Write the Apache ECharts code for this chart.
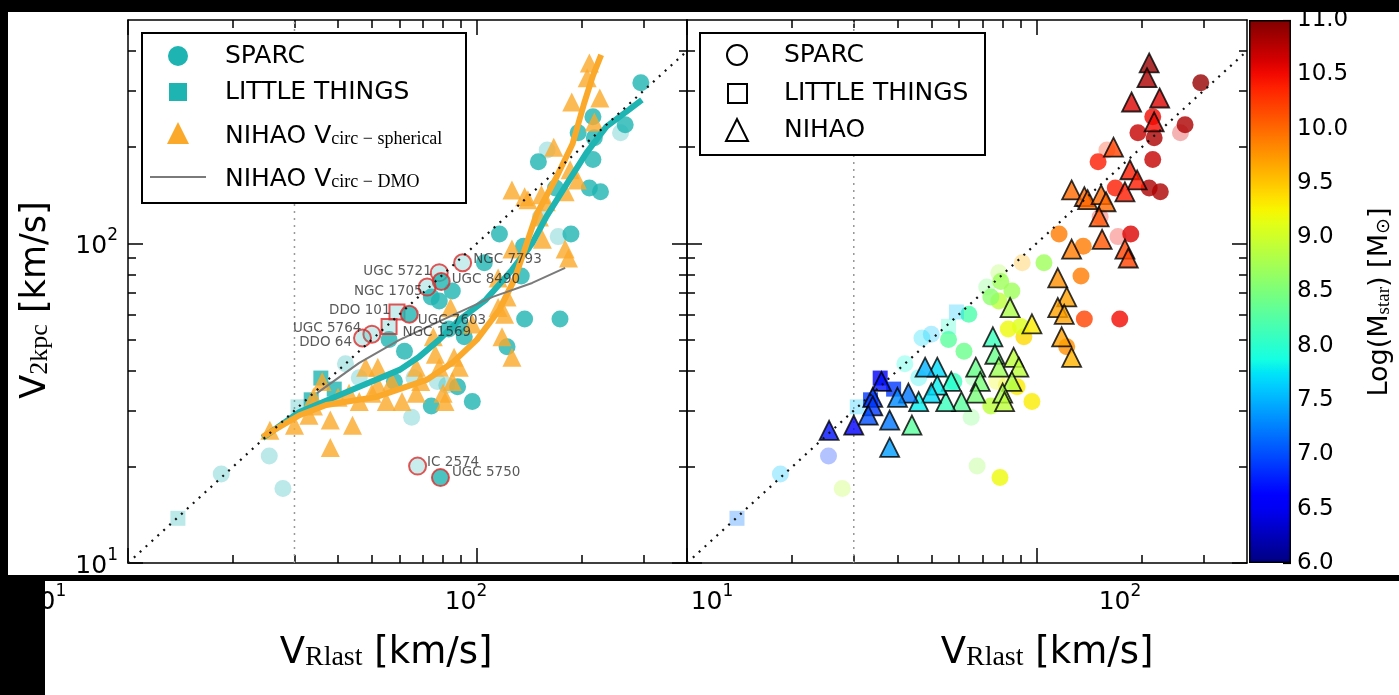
<!DOCTYPE html>
<html>
<head>
<meta charset="utf-8">
<script src="https://cdn.jsdelivr.net/npm/echarts@6/dist/echarts.min.js"></script>
<style>
  html, body { margin: 0; padding: 0; background: #fff; }
  #chart { width: 1399px; height: 695px; }
</style>
</head>
<body>
<div id="chart"></div>
<script>
// SPARC galaxies: [V_Rlast (km/s), V_2kpc (km/s), log Mstar, faded flag]
const sparc = [
  [295,318,10.9,0],[266,235,10.8,0],[258,222,10.6,1],[215,249,10.5,0],[195,222,10.7,0],
  [217,214,10.8,0],[215,183,10.7,0],[150,180,10.4,0],[159,196,10.3,1],[168,149,10.4,0],
  [210,149,10.8,0],[226,145,10.8,0],[186,107,10.6,0],[116,107,9.9,0],[136,98,9.9,0],
  [105,87,8.7,0],[152,121,10.5,1],[171,105,10.5,1],[134,79,9.9,0],[137,58,10.2,0],
  [122,47.5,9.8,0],[173,58,10.5,0],[85,71,8.7,0],[78,66,8.9,0],[83,54,9.2,0],
  [92,51,9.4,0],[56,50,8.3,0],[62,46,8.4,0],[77,37,9.2,1],[88,35.6,9.3,0],
  [74,31,8.9,0],[65,28.6,8.5,1],[58,37,8.1,0],[97,32,9.3,0],[42,42,7.9,1],
  [46,38,7.8,1],[66,38,8.4,1],[82,36,9.2,1],[18.5,19,7.6,1],[25.4,21.6,6.9,1],
  [27.8,17.1,8.9,1],[74,68,8.6,0],[90,55,9.1,0]
];

// LITTLE THINGS dwarfs: [V_Rlast, V_2kpc, log Mstar, faded flag]
const littleThings = [
  [13.9,13.8,7.2,1],[35.7,37.9,6.6,0],[33.5,32.4,6.9,0],[30.7,30.8,7.6,1],[39,35,6.9,0]
];

// Labelled galaxies: [name, V_Rlast, V_2kpc, log Mstar, faded flag, sample]
const namedGalaxies = [
  ['NGC 7793', 91, 87, 9.6, 1, 'SPARC'],
  ['UGC 5721', 78, 81, 8.8, 1, 'SPARC'],
  ['UGC 8490', 79, 76, 8.7, 0, 'SPARC'],
  ['NGC 1705', 72, 73, 8.5, 1, 'SPARC'],
  ['DDO 101', 59, 61, 7.6, 1, 'LITTLE THINGS'],
  ['UGC 7603', 64, 60, 8.2, 0, 'SPARC'],
  ['NGC 1569', 56, 55, 8.0, 1, 'LITTLE THINGS'],
  ['UGC 5764', 50, 52, 7.6, 1, 'SPARC'],
  ['DDO 64', 47, 50.6, 7.7, 1, 'SPARC'],
  ['IC 2574', 67.6, 20.1, 8.7, 1, 'SPARC'],
  ['UGC 5750', 78.6, 18.5, 9.2, 0, 'SPARC']
];

// NIHAO simulated galaxies: [V_Rlast, V_circ,spherical(2 kpc), log Mstar]
const nihao = [
  [210,367,10.9],[207,330,10.8],[225,285,10.6],[187,277,10.6],[217,240,10.5],
  [166,200,10.2],[185,170,10.4],[194,158,10.4],[179,145,10.4],[126,147,10.0],
  [137,140,10.0],[140,137,10.0],[153,142,10.0],[158,135,10.0],[151,121,10.1],
  [154,103,10.1],[126,96,9.9],[179,96,10.2],[183,90,10.2],[115,78,9.8],
  [122,68,9.7],[115,63,9.7],[120,60,9.7],[118,51,9.7],[126,44,9.6],
  [97,56,9.3],[84,63,8.8],[75,51,8.1],[76,45,8.4],[86,44,8.9],
  [89,41,8.9],[78,41,8.7],[67,41,8.4],[69,37,8.5],[85,37,8.8],
  [80,34,8.8],[81,32,8.9],[67,34,8.5],[61,32,8.3],[55,32,8.1],
  [57,37,8.0],[52,41,7.7],[48,41,7.5],[52,36,7.8],[50,34,7.7],
  [46,32,7.8],[43,34,7.2],[40,33,7.3],[36,37,6.7],[34,33,6.9],
  [34,31,6.9],[33,29,7.0],[38,28,7.2],[44,27,8.3],[30,27,6.6],
  [25.5,26,6.7],[38,23,7.4]
];

// Running trends
const sparcTrend = [[24.3,24.6],[31,29.7],[46,35.6],[60,40.2],[68,44],[78,50],[89,57.6],[106,66.6],
  [126,82.6],[144,100],[158,121],[184,158],[206,192],[235,232],[273,262],[297,281]];
const nihaoTrend = [[24.3,24.8],[31,29],[37,31.2],[51.6,33.1],[71.7,37.4],[85,42.3],[100,50],[116,62],
  [128,77],[137,95.5],[148,123],[169,161],[188,205],[203,275],[215,335],[227,389]];
const nihaoDMO = [[34.8,34],[46,42.3],[60,49.9],[82,58.5],[111,68],[144,75.2],[179,83.8]];

// Reference lines
const oneToOne = [[10,10],[400,400]];
const vCut = [[30,10],[30,500]];

// Axis ticks
const xMajorTicks = [10,100];
const xMinorTicks = [20,30,40,50,60,70,80,90,200,300];
const yMajorTicks = [10,100];
const yMinorTicks = [20,30,40,50,60,70,80,90,200,300,400];
const massMin = 6, massMax = 11, massStep = 0.5;

// ---------------------------------------------------------------
const TEAL = '#1db4b2';
const TEAL_FADED = 'rgba(29,180,178,0.3)';
const ORANGE = '#fba92a';
const RED = '#dc2a2a';
const FONT = 'DejaVu Sans';
const SERIF = 'Liberation Serif';

// matplotlib "jet" colour map
const JR = [[0,0],[0.35,0],[0.66,1],[0.89,1],[1,0.5]];
const JG = [[0,0],[0.125,0],[0.375,1],[0.64,1],[0.91,0],[1,0]];
const JB = [[0,0.5],[0.11,1],[0.34,1],[0.65,0],[1,0]];
function interp(p, t) {
  for (let i = 1; i < p.length; i++) {
    if (t <= p[i][0]) {
      const a = p[i-1], b = p[i];
      return a[1] + (b[1]-a[1]) * (t-a[0]) / (b[0]-a[0]);
    }
  }
  return p[p.length-1][1];
}
function jet(t) {
  return 'rgb(' + [JR,JG,JB].map(p => Math.round(255*interp(p,t))).join(',') + ')';
}
const jetColors = Array.from({length: 41}, (_, i) => jet(i/40));

// power-of-ten tick labels with a raised exponent
function sup(v) {
  const e = Math.round(Math.log10(v));
  return '{m|10}{e|' + e + '}';
}
const supRich = {
  m: {fontSize: 25, fontFamily: 'DejaVu Sans', color: '#000', lineHeight: 32, verticalAlign: 'bottom'},
  e: {fontSize: 17, fontFamily: 'DejaVu Sans', color: '#000', lineHeight: 16, verticalAlign: 'top'}
};

const frame = {color: '#000', width: 1.5};

function panelAxes(gi, yLabels) {
  const xs = [], ys = [];
  ['bottom','top'].forEach(pos => {
    xs.push({gridIndex: gi, type: 'log', logBase: 10, min: 10, max: 400, position: pos,
      axisLine: {show: true, onZero: false, lineStyle: frame},
      axisTick: {show: true, inside: true, length: 15, lineStyle: frame, customValues: xMajorTicks},
      axisLabel: {show: false}, splitLine: {show: false}});
    xs.push({gridIndex: gi, type: 'log', logBase: 10, min: 10, max: 400, position: pos,
      axisLine: {show: false},
      axisTick: {show: true, inside: true, length: 8, lineStyle: frame, customValues: xMinorTicks},
      axisLabel: {show: false}, splitLine: {show: false}});
  });
  ['left','right'].forEach(pos => {
    ys.push({gridIndex: gi, type: 'log', logBase: 10, min: 10, max: 500, position: pos,
      axisLine: {show: true, onZero: false, lineStyle: frame},
      axisTick: {show: true, inside: true, length: 15, lineStyle: frame, customValues: yMajorTicks},
      axisLabel: {show: yLabels && pos === 'left', customValues: yMajorTicks, formatter: sup,
        rich: supRich, margin: 10},
      splitLine: {show: false}});
    ys.push({gridIndex: gi, type: 'log', logBase: 10, min: 10, max: 500, position: pos,
      axisLine: {show: false},
      axisTick: {show: true, inside: true, length: 8, lineStyle: frame, customValues: yMinorTicks},
      axisLabel: {show: false}, splitLine: {show: false}});
  });
  return {xs, ys};
}

const pL = panelAxes(0, true);
const pR = panelAxes(1, false);

function labelRowAxis(gi) {
  return {gridIndex: gi, type: 'log', logBase: 10, min: 10, max: 100, position: 'bottom',
    axisLine: {show: false}, axisTick: {show: false}, splitLine: {show: false},
    axisLabel: {show: true, formatter: sup, rich: supRich, margin: 2,
      showMinLabel: true, showMaxLabel: true}};
}

const xAxes = [...pL.xs, ...pR.xs, labelRowAxis(2), labelRowAxis(3),
  {gridIndex: 4, type: 'category', data: ['M'], show: false}];
const yAxes = [...pL.ys, ...pR.ys,
  {gridIndex: 2, type: 'value', show: false},
  {gridIndex: 3, type: 'value', show: false},
  {gridIndex: 4, type: 'value', min: massMin, max: massMax, interval: massStep, position: 'right',
    axisLine: {show: false}, splitLine: {show: false},
    axisTick: {show: true, inside: true, length: 8, lineStyle: {color: '#000', width: 1.2}},
    axisLabel: {fontSize: 23, fontFamily: FONT, color: '#000', margin: 6, formatter: v => v.toFixed(1)}}];

// label placement for the named galaxies: [side, distance, dx, dy]
const namedLabelPlacement = {
  'NGC 7793': ['right', 1, 0, -3], 'UGC 8490': ['right', 1, 0, -2],
  'UGC 5721': ['left', -2, 0, -1], 'NGC 1705': ['left', -5, 0, 4],
  'DDO 101': ['left', -2, 0, -2], 'UGC 7603': ['right', -1, 0, 6],
  'NGC 1569': ['right', 5, 0, 6], 'UGC 5764': ['left', 1, 0, -6],
  'DDO 64': ['left', 1, 0, 5], 'IC 2574': ['right', 0, 0, -4],
  'UGC 5750': ['right', 2, 0, -5]
};

const SZ_C = 17, SZ_S = 15, SZ_T = 19;
const series = [];
function add(s) { series.push(s); return series.length - 1; }

// ---- left panel
const L = {xAxisIndex: 0, yAxisIndex: 0};
add({...L, type: 'line', data: vCut, symbol: 'none', z: 1, silent: true,
  lineStyle: {color: '#999', width: 1.5, type: [2,5]}});
add({...L, type: 'scatter', name: 'SPARC', symbol: 'circle', symbolSize: SZ_C, z: 2,
  data: sparc.filter(d => d[3]).map(d => [d[0], d[1]]), itemStyle: {color: TEAL, opacity: 0.3}});
add({...L, type: 'scatter', name: 'SPARC', symbol: 'circle', symbolSize: SZ_C, z: 2,
  data: sparc.filter(d => !d[3]).map(d => [d[0], d[1]]), itemStyle: {color: TEAL}});
add({...L, type: 'scatter', name: 'LITTLE THINGS', symbol: 'rect', symbolSize: SZ_S, z: 2,
  data: littleThings.filter(d => d[3]).map(d => [d[0], d[1]]), itemStyle: {color: TEAL, opacity: 0.3}});
add({...L, type: 'scatter', name: 'LITTLE THINGS', symbol: 'rect', symbolSize: SZ_S, z: 2,
  data: littleThings.filter(d => !d[3]).map(d => [d[0], d[1]]), itemStyle: {color: TEAL}});
add({...L, type: 'scatter', name: 'NIHAO', symbol: 'triangle', symbolSize: SZ_T, z: 3,
  data: nihao.map(d => [d[0], d[1]]), itemStyle: {color: ORANGE}});
add({...L, type: 'line', data: sparcTrend, symbol: 'none', z: 4, lineStyle: {color: TEAL, width: 6}});
add({...L, type: 'line', data: nihaoTrend, symbol: 'none', z: 4, lineStyle: {color: ORANGE, width: 6}});
add({...L, type: 'line', data: nihaoDMO, symbol: 'none', z: 4, lineStyle: {color: '#7a7a7a', width: 2}});
add({...L, type: 'scatter', z: 5,
  data: namedGalaxies.map(g => {
    const p = namedLabelPlacement[g[0]];
    const isLT = g[5] === 'LITTLE THINGS';
    return {
      name: g[0], value: [g[1], g[2]],
      symbol: isLT ? 'rect' : 'circle', symbolSize: isLT ? SZ_S : SZ_C,
      itemStyle: {color: g[4] ? TEAL_FADED : TEAL, borderColor: RED, borderWidth: 2},
      label: {show: true, formatter: g[0], position: p[0], distance: p[1], offset: [p[2], p[3]],
        fontSize: 13.5, fontFamily: FONT, color: '#2e2e2e'}
    };
  })});
add({...L, type: 'line', data: oneToOne, symbol: 'none', z: 6, silent: true,
  lineStyle: {color: '#111', width: 2.2, type: [2,6]}});

// ---- right panel, coloured by stellar mass
const R = {xAxisIndex: 4, yAxisIndex: 4};
const namedC = namedGalaxies.filter(g => g[5] === 'SPARC');
const namedS = namedGalaxies.filter(g => g[5] === 'LITTLE THINGS');
const sparcAll = sparc.concat(namedC.map(g => [g[1], g[2], g[3], g[4]]));
const ltAll = littleThings.concat(namedS.map(g => [g[1], g[2], g[3], g[4]]));
const mapped = [];
add({...R, type: 'line', data: vCut, symbol: 'none', z: 1, silent: true,
  lineStyle: {color: '#999', width: 1.5, type: [2,5]}});
mapped.push(add({...R, type: 'scatter', name: 'SPARC', symbol: 'circle', symbolSize: SZ_C, z: 2,
  data: sparcAll.filter(d => d[3]).map(d => [d[0], d[1], d[2]]), itemStyle: {opacity: 0.3}}));
mapped.push(add({...R, type: 'scatter', name: 'SPARC', symbol: 'circle', symbolSize: SZ_C, z: 2,
  data: sparcAll.filter(d => !d[3]).map(d => [d[0], d[1], d[2]])}));
mapped.push(add({...R, type: 'scatter', name: 'LITTLE THINGS', symbol: 'rect', symbolSize: SZ_S, z: 2,
  data: ltAll.filter(d => d[3]).map(d => [d[0], d[1], d[2]]), itemStyle: {opacity: 0.3}}));
mapped.push(add({...R, type: 'scatter', name: 'LITTLE THINGS', symbol: 'rect', symbolSize: SZ_S, z: 2,
  data: ltAll.filter(d => !d[3]).map(d => [d[0], d[1], d[2]])}));
mapped.push(add({...R, type: 'scatter', name: 'NIHAO', symbol: 'triangle', symbolSize: SZ_T, z: 3,
  data: nihao, itemStyle: {borderColor: '#000', borderWidth: 1.8}}));
add({...R, type: 'line', data: oneToOne, symbol: 'none', z: 6, silent: true,
  lineStyle: {color: '#111', width: 2.2, type: [2,6]}});

// ---- colour bar
const cbGradient = new echarts.graphic.LinearGradient(0, 1, 0, 0,
  jetColors.map((c, i) => ({offset: i / (jetColors.length - 1), color: c})));
add({xAxisIndex: 10, yAxisIndex: 10, type: 'bar', stack: 'cb', data: [massMin], barWidth: '100%',
  itemStyle: {color: 'rgba(0,0,0,0)'}, silent: true});
add({xAxisIndex: 10, yAxisIndex: 10, type: 'bar', stack: 'cb', data: [massMax - massMin], barWidth: '100%',
  itemStyle: {color: cbGradient, borderColor: '#000', borderWidth: 1.5}, silent: true});

// ---- legends, titles and frame
const T = (x, y, text, extra) => ({type: 'text', x, y, z: 110,
  style: Object.assign({text, fontSize: 25, fontFamily: FONT, fill: '#000',
    align: 'left', verticalAlign: 'middle'}, extra || {})});
const subRich = (big, small, drop) => ({
  a: {fontSize: big, fontFamily: FONT, fill: '#000', lineHeight: big + 6, verticalAlign: 'bottom'},
  b: {fontSize: small, fontFamily: SERIF, fill: '#000', lineHeight: drop, verticalAlign: 'bottom'}
});

const graphics = [
  // left legend
  {type: 'rect', z: 100, shape: {x: 142, y: 33, width: 324, height: 170},
    style: {fill: '#fff', stroke: '#000', lineWidth: 2}},
  {type: 'circle', z: 110, shape: {cx: 178, cy: 56, r: 10}, style: {fill: TEAL}},
  {type: 'rect', z: 110, shape: {x: 169, y: 83, width: 18, height: 18}, style: {fill: TEAL}},
  {type: 'polygon', z: 110, shape: {points: [[178,122],[167,144],[189,144]]}, style: {fill: ORANGE}},
  {type: 'line', z: 110, shape: {x1: 150, y1: 177, x2: 206, y2: 177}, style: {stroke: '#7a7a7a', lineWidth: 2}},
  T(225, 56, 'SPARC'),
  T(225, 92, 'LITTLE THINGS'),
  T(225, 133, '{a|NIHAO V}{b|circ − spherical}', {rich: subRich(25, 18, 12)}),
  T(225, 176, '{a|NIHAO V}{b|circ − DMO}', {rich: subRich(25, 18, 12)}),
  // right legend
  {type: 'rect', z: 100, shape: {x: 700, y: 33, width: 285, height: 122},
    style: {fill: '#fff', stroke: '#000', lineWidth: 2}},
  {type: 'circle', z: 110, shape: {cx: 737, cy: 55, r: 10}, style: {fill: 'none', stroke: '#000', lineWidth: 2}},
  {type: 'rect', z: 110, shape: {x: 728, y: 84, width: 19, height: 19}, style: {fill: 'none', stroke: '#000', lineWidth: 2}},
  {type: 'polygon', z: 110, shape: {points: [[737,119],[726,141],[748,141]]}, style: {fill: 'none', stroke: '#000', lineWidth: 2}},
  T(784, 55, 'SPARC'),
  T(784, 93, 'LITTLE THINGS'),
  T(784, 130, 'NIHAO'),
  // axis titles
  T(386, 650, '{a|V}{b|Rlast}{a| [km/s]}', {align: 'center', rich: subRich(37, 28, 14)}),
  T(1047, 650, '{a|V}{b|Rlast}{a| [km/s]}', {align: 'center', rich: subRich(37, 28, 14)}),
  Object.assign(T(33, 300, '{a|V}{b|2kpc}{a| [km/s]}', {align: 'center', rich: subRich(35, 26, 14)}), {rotation: Math.PI / 2}),
  Object.assign(T(1377, 302, '{a|Log(M}{b|star}{a|) [M}{b|⊙}{a|]}', {align: 'center', rich: subRich(27, 19, 11)}), {rotation: Math.PI / 2}),
  // outer frame
  {type: 'rect', z: 200, shape: {x: 0, y: 0, width: 1399, height: 12}, style: {fill: '#000'}},
  {type: 'rect', z: 200, shape: {x: 0, y: 0, width: 8, height: 580}, style: {fill: '#000'}},
  {type: 'rect', z: 200, shape: {x: 0, y: 575, width: 1399, height: 6}, style: {fill: '#000'}},
  {type: 'rect', z: 200, shape: {x: 0, y: 575, width: 45, height: 120}, style: {fill: '#000'}}
];

const chart = echarts.init(document.getElementById('chart'), null, {renderer: 'canvas'});
chart.setOption({
  animation: false,
  backgroundColor: '#fff',
  grid: [
    {left: 128, top: 20, width: 559, height: 543},
    {left: 687, top: 20, width: 560, height: 543},
    {left: 45, top: 580, width: 421, height: 1},
    {left: 712, top: 580, width: 408, height: 1},
    {left: 1249, top: 20, width: 42, height: 543}
  ],
  xAxis: xAxes,
  yAxis: yAxes,
  visualMap: {type: 'continuous', show: false, min: massMin, max: massMax, dimension: 2,
    seriesIndex: mapped, inRange: {color: jetColors}},
  series: series,
  graphic: {elements: graphics}
});
</script>
</body>
</html>
